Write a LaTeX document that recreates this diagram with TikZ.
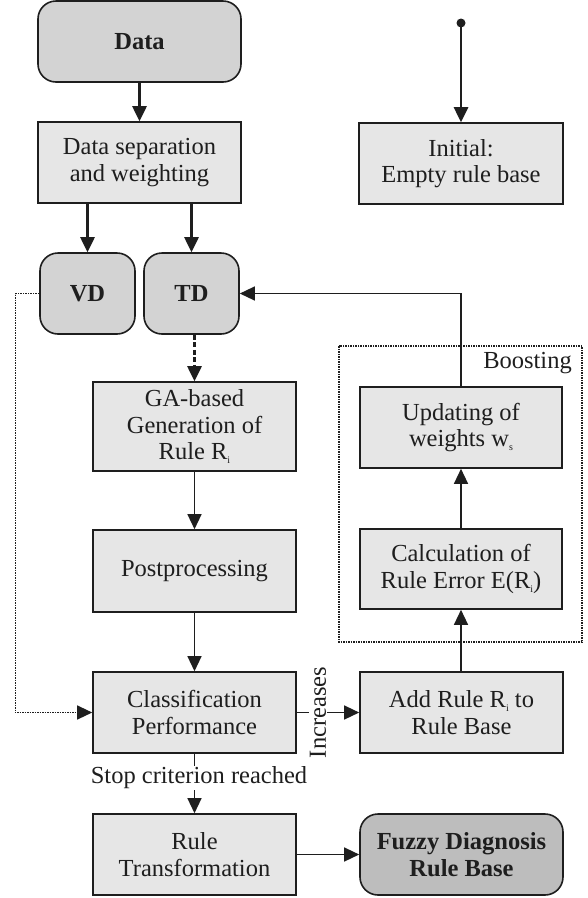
\documentclass[tikz,border=0pt]{standalone}
\usepackage{fontspec}
\setmainfont{Liberation Serif}
\usetikzlibrary{arrows.meta}
\newcommand{\mysub}[1]{\raisebox{-4pt}{\fontsize{10}{10}\selectfont #1}}
\definecolor{boxfill}{HTML}{E6E6E6}
\definecolor{darkfill}{HTML}{D3D3D3}
\definecolor{darkerfill}{HTML}{BDBDBD}
\definecolor{ink}{HTML}{1E1E1E}
\tikzset{
  base/.style={draw=ink, line width=1.6pt, align=center, inner sep=0pt, text=ink,
    font=\fontsize{24.5}{26.5}\selectfont},
  procbox/.style={base, fill=boxfill, rectangle},
  termbox/.style={base, fill=darkfill, rounded corners=18pt, font=\fontsize{24.5}{26.5}\selectfont\bfseries},
  fuzzbox/.style={termbox, fill=darkerfill},
  tip/.style={-{Triangle[length=15pt,width=14pt]}},
  thickarrow/.style={tip, draw=ink, line width=2.7pt},
  thinarrow/.style={tip, draw=ink, line width=1.3pt},
  dottedline/.style={draw=ink, line width=1.2pt, dash pattern=on 1.5pt off 1pt},
  lbl/.style={text=ink, inner sep=1pt, font=\fontsize{24.5}{26.5}\selectfont},
}
\begin{document}
\begin{tikzpicture}[x=1pt,y=-1pt]
\useasboundingbox (0,0) rectangle (588,898);
% nodes
\node[termbox, minimum width=203pt, minimum height=81pt] (data) at (139.5,41.5) {Data};
\node[procbox, minimum width=203pt, minimum height=81pt] (sep) at (139.5,162.5) {Data separation\\and weighting};
\node[termbox, minimum width=95pt, minimum height=81pt] (vd) at (87.5,293.5) {VD};
\node[termbox, minimum width=95pt, minimum height=81pt] (td) at (191.5,293.5) {TD};
\node[procbox, minimum width=204pt, minimum height=81pt] (init) at (461,163.5) {Initial:\\Empty rule base};
\node[circle, fill=ink, inner sep=0pt, minimum size=9pt] (dot) at (461,23) {};
\node[procbox, minimum width=203pt, minimum height=89pt] (ga) at (194.5,426.5) {GA-based\\Generation of\\Rule R\mysub{i}};
\node[procbox, minimum width=203pt, minimum height=82pt] (post) at (194.5,571) {Postprocessing};
\node[procbox, minimum width=203pt, minimum height=81pt] (cls) at (194.5,712.5) {Classification\\Performance};
\node[procbox, minimum width=203pt, minimum height=81pt] (rt) at (194.5,854.5) {Rule\\Transformation};
\node[procbox, minimum width=202pt, minimum height=81pt] (upd) at (461,427.5) {Updating of\\weights w\mysub{s}};
\node[procbox, minimum width=202pt, minimum height=80pt] (calc) at (461,569) {Calculation of\\Rule Error E(R\mysub{i})};
\node[procbox, minimum width=203pt, minimum height=81pt] (add) at (461.5,712.5) {Add Rule R\mysub{i} to\\Rule Base};
\node[fuzzbox, minimum width=203pt, minimum height=81pt] (fuzzy) at (461.5,854.5) {Fuzzy Diagnosis\\Rule Base};
% boosting frame
\draw[dottedline] (339,346) rectangle (582,642);
\coordinate (bne) at (582,346);
\node[lbl, anchor=east] (boostlbl) at ([xshift=-9pt,yshift=-17pt]bne) {Boosting};
% connectors
\draw[thickarrow] (data) -- (sep);
\draw[thickarrow] (vd.north |- sep.south) -- (vd.north);
\draw[thickarrow] (td.north |- sep.south) -- (td.north);
\draw[thickarrow] (dot.center) -- (init);
\draw[tip, draw=ink, line width=2.7pt, dash pattern=on 5pt off 2.5pt] (td.south -| ga.north) -- (ga.north);
\draw[thinarrow] (ga) -- (post);
\draw[thinarrow] (post) -- (cls);
\draw[dottedline, tip] (vd.west) -- ++(-24,0) |- (cls.west);
\draw[thinarrow] (cls) -- (add);
\node[lbl, fill=white, rotate=90] (inc) at (318,712.5) {Increases};
\draw[thinarrow] (cls) -- (rt);
\node[lbl, fill=white] (stop) at (199,778) {Stop criterion reached};
\draw[thinarrow] (rt) -- (fuzzy);
\draw[thinarrow] (add.north -| calc.south) -- (calc.south);
\draw[thinarrow] (calc) -- (upd);
\draw[thinarrow] (upd.north) |- (td.east);
\end{tikzpicture}
\end{document}
